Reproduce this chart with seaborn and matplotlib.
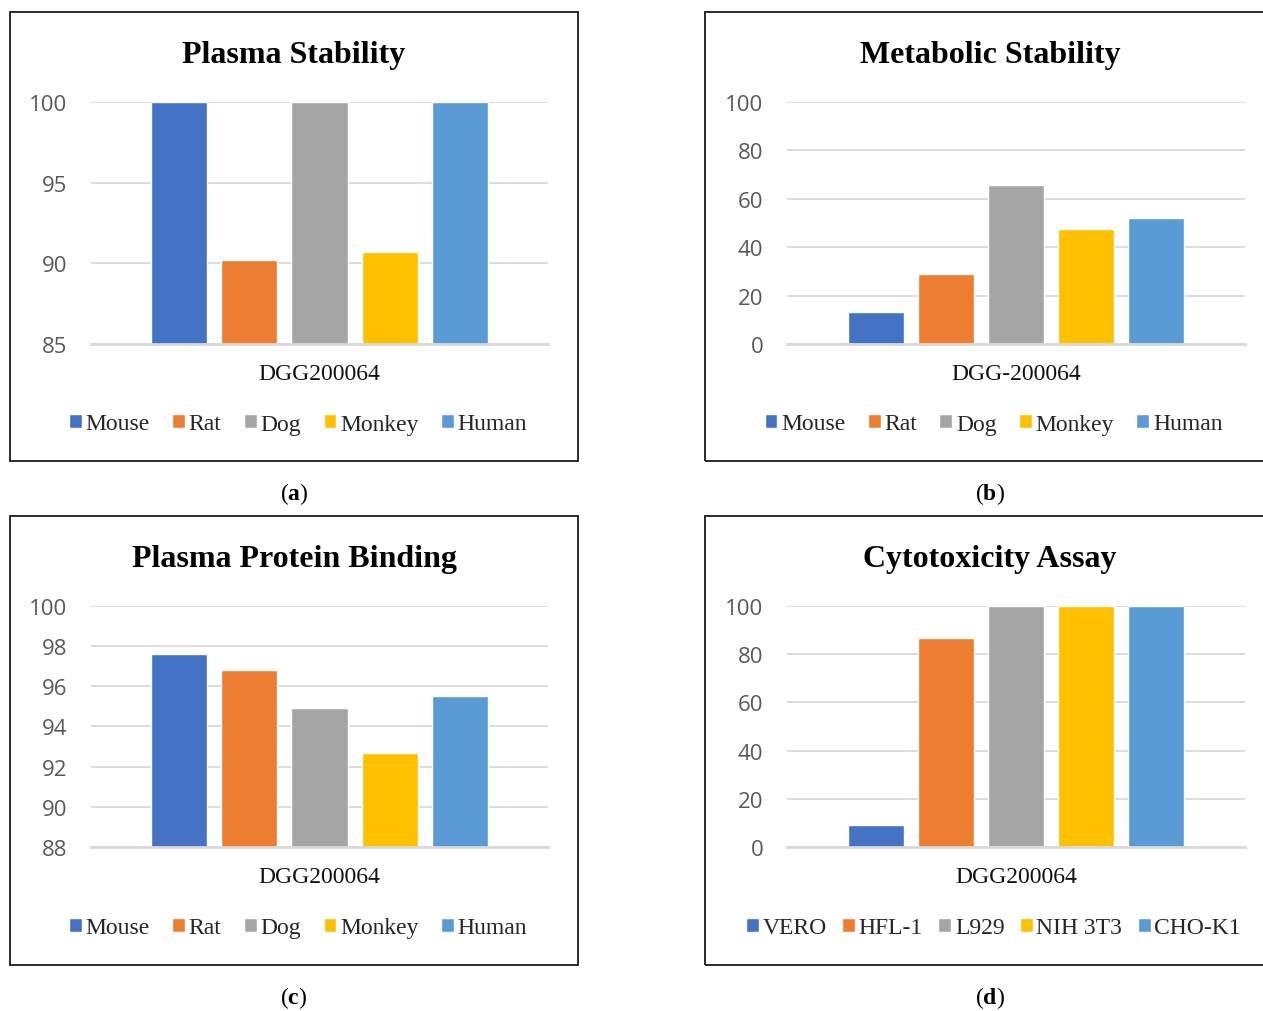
import matplotlib
matplotlib.use("Agg")
import matplotlib.pyplot as plt
import seaborn as sns
import pandas as pd
from matplotlib.patches import Rectangle

# ---------------- data ----------------
species = ["Mouse", "Rat", "Dog", "Monkey", "Human"]
cell_lines = ["VERO", "HFL-1", "L929", "NIH 3T3", "CHO-K1"]
compound_a = "DGG200064"
compound_b = "DGG-200064"
plasma_stability = [100, 90.2, 100, 90.7, 100]
metabolic_stability = [13.2, 28.9, 65.7, 47.5, 52.1]
protein_binding = [97.6, 96.8, 94.9, 92.7, 95.5]
cytotoxicity = [9.1, 86.7, 100, 100, 100]
ticks_a = [85, 90, 95, 100]
ticks_b = [0, 20, 40, 60, 80, 100]
ticks_c = [88, 90, 92, 94, 96, 98, 100]
ticks_d = [0, 20, 40, 60, 80, 100]
titles = ["Plasma Stability", "Metabolic Stability", "Plasma Protein Binding", "Cytotoxicity Assay"]
panel_labels = ["a", "b", "c", "d"]

colors = ["#4472C4", "#ED7D31", "#A5A5A5", "#FFC000", "#5B9BD5"]

sns.set_theme(style="white")
plt.rcParams["font.family"] = ["Liberation Serif", "DejaVu Serif"]
plt.rcParams["mathtext.fontset"] = "custom"
plt.rcParams["mathtext.rm"] = "Liberation Serif"
plt.rcParams["mathtext.bf"] = "Liberation Serif:bold"

W, H = 1263, 1012
fig = plt.figure(figsize=(W / 100, H / 100), dpi=100)
fig.patch.set_facecolor("white")


def fx(px):
    return px / W


def fy(py):
    return 1 - py / H


panels = [
    dict(values=plasma_stability, cats=species, compound=compound_a, ylim=(85, 100), ticks=ticks_a,
         box=(10, 13, 578, 462), ax=(91, 103, 548, 345), dx=0, dy=0, colsp=0.95, tx=294),
    dict(values=metabolic_stability, cats=species, compound=compound_b, ylim=(0, 100), ticks=ticks_b,
         box=(705, 13, 1274, 462), ax=(787, 103, 1245, 345), dx=696, dy=0, colsp=0.95, tx=990),
    dict(values=protein_binding, cats=species, compound=compound_a, ylim=(88, 100), ticks=ticks_c,
         box=(10, 517, 578, 966), ax=(91, 607, 548, 848), dx=0, dy=504, colsp=0.95, tx=294),
    dict(values=cytotoxicity, cats=cell_lines, compound=compound_a, ylim=(0, 100), ticks=ticks_d,
         box=(705, 517, 1274, 966), ax=(787, 607, 1245, 848), dx=696, dy=504, colsp=0.65, tx=990),
]

for i, p in enumerate(panels):
    x0, y0, x1, y1 = p["box"]
    fig.patches.append(Rectangle((fx(x0), fy(y1)), fx(x1 - x0), (y1 - y0) / H,
                                 transform=fig.transFigure, fill=False,
                                 edgecolor="#1a1a1a", linewidth=1.3, zorder=0))
    ax0, ay0, ax1, ay1 = p["ax"]
    ax = fig.add_axes([fx(ax0), fy(ay1), fx(ax1 - ax0), (ay1 - ay0) / H])
    df = pd.DataFrame({"compound": [p["compound"]] * len(p["cats"]),
                       "group": p["cats"], "value": p["values"]})
    sns.barplot(data=df, x="compound", y="value", hue="group", hue_order=p["cats"],
                palette=colors, width=0.766, gap=0.2, saturation=1, ax=ax,
                legend=True, errorbar=None)
    ax.set_ylim(*p["ylim"])
    ax.set_xlim(-0.5, 0.5)
    ax.set_yticks(p["ticks"])
    ax.set_axisbelow(True)
    ax.yaxis.grid(True, color="#d9d9d9", linewidth=1.3)
    ax.xaxis.grid(False)
    for s in ["top", "left", "right"]:
        ax.spines[s].set_visible(False)
    ax.spines["bottom"].set_color("#d9d9d9")
    ax.spines["bottom"].set_linewidth(2.0)
    ax.set_xlabel("")
    ax.set_ylabel("")
    ax.tick_params(axis="y", length=0, pad=17, labelsize=16, labelcolor="#595959")
    for t in ax.get_yticklabels():
        t.set_fontfamily(["Open Sans", "DejaVu Sans"])
    ax.tick_params(axis="x", length=0, pad=14, labelsize=17, labelcolor="#111111")

    handles, labels = ax.get_legend_handles_labels()
    ax.get_legend().remove()
    cx = (x0 + min(x1, 1274)) / 2 + 4
    fig.legend(handles, labels, loc="center", bbox_to_anchor=(fx(cx), fy(425 + p["dy"])),
               ncol=5, frameon=False, fontsize=17, handlelength=0.55, handleheight=0.55,
               handletextpad=0.15, columnspacing=p["colsp"], borderaxespad=0, borderpad=0)

    fig.text(fx(p["tx"]), fy(55 + p["dy"]), titles[i],
             ha="center", va="center", fontsize=23, fontweight="bold", color="black")
    fig.text(fx(294 + p["dx"]), fy(494 + p["dy"]), r"$(\mathbf{%s})$" % panel_labels[i],
             ha="center", va="center", fontsize=17, color="black")

fig.savefig("out.png", dpi=100, facecolor="white")
